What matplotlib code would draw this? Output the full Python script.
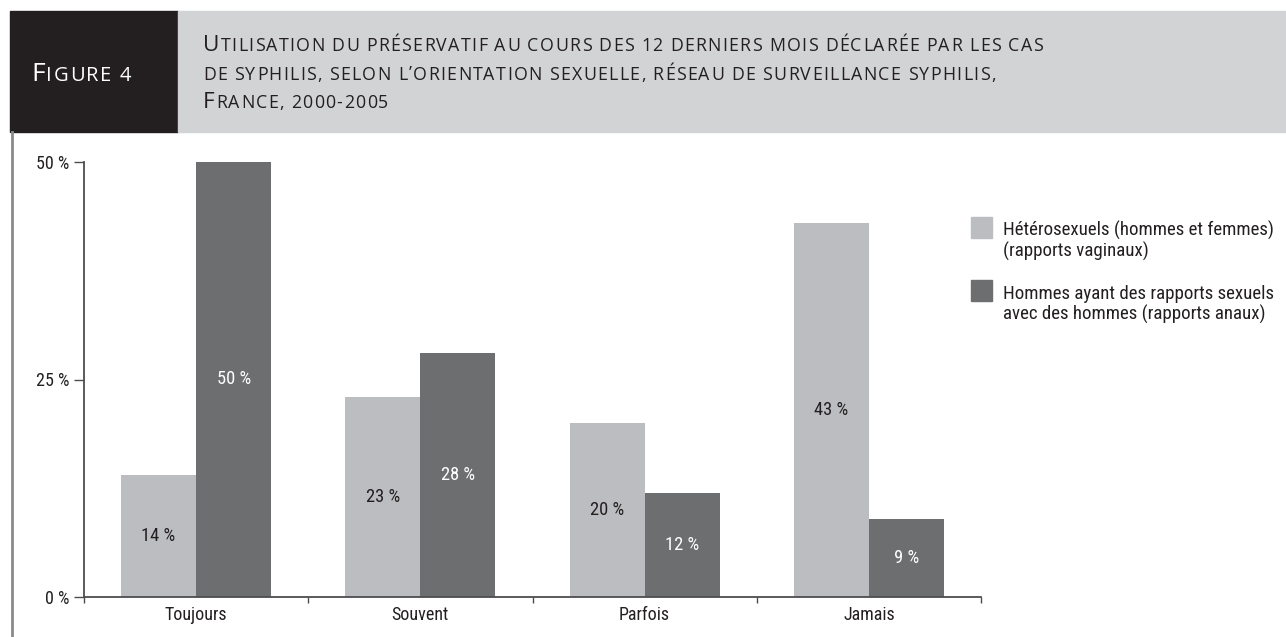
import matplotlib
matplotlib.use('Agg')
import matplotlib.pyplot as plt
from matplotlib.patches import Rectangle
from matplotlib.font_manager import FontProperties, fontManager
import numpy as np

categories = ['Toujours', 'Souvent', 'Parfois', 'Jamais']
hetero = [14, 23, 20, 43]
hsh = [50, 28, 12, 9]
series_names = ['Hétérosexuels (hommes et femmes)\n(rapports vaginaux)',
                'Hommes ayant des rapports sexuels\navec des hommes (rapports anaux)']
yticks = [0, 25, 50]
ytick_labels = ['0 %', '25 %', '50 %']
title_lines = ['Utilisation du préservatif au cours des 12 derniers mois déclarée par les cas',
               'de syphilis, selon l’orientation sexuelle, réseau de surveillance syphilis,',
               'France, 2000-2005']
fig_label = 'Figure 4'

LIGHT = '#bcbdc0'
DARK = '#6d6e70'
INK = '#231f20'
HEAD_GRAY = '#d1d3d4'
AXIS = '#4d4d4f'

names = {f.name for f in fontManager.ttflist}
BODY = [n for n in ['Roboto Condensed', 'Liberation Sans Narrow', 'Open Sans Condensed'] if n in names]
if not BODY:
    BODY = ['Roboto']
BODY = BODY + ['DejaVu Sans']
TITLE = ['Open Sans', 'DejaVu Sans']
plt.rcParams['font.family'] = BODY

W, H = 1286, 637
fig = plt.figure(figsize=(W / 100, H / 100), dpi=100)


def fx(px):
    return px / W


def fy(py):
    return 1 - py / H


# header
fig.patches.append(Rectangle((fx(10), fy(132)), fx(178) - fx(10), (132 - 11) / H,
                             transform=fig.transFigure, color=INK, zorder=0))
fig.patches.append(Rectangle((fx(178), fy(132)), 1 - fx(178), (132 - 11) / H,
                             transform=fig.transFigure, color=HEAD_GRAY, zorder=0))
# left border
fig.add_artist(plt.Line2D([fx(12), fx(12)], [fy(132), 0], transform=fig.transFigure,
                          color='#8a8b8d', lw=2))

renderer = fig.canvas.get_renderer()


def advance(ch, size):
    prop = FontProperties(family=TITLE, size=size)
    w1 = renderer.get_text_width_height_descent('I' + ch + 'I', prop, False)[0]
    w0 = renderer.get_text_width_height_descent('II', prop, False)[0]
    return w1 - w0


def smallcaps(x, y, text, big, small, color, track):
    cur = x
    for ch in text:
        size = big if ch.isupper() else small
        c = ch.upper()
        if c != ' ':
            fig.text(fx(cur), fy(y), c, fontsize=size, color=color, va='baseline',
                     ha='left', family=TITLE)
        cur += advance(c, size) + track


smallcaps(31, 81, fig_label, 19.0, 14.5, 'white', 1.6)
for i, line in enumerate(title_lines):
    smallcaps(203, 51 + i * 28.5, line, 16.2, 12.8, INK, 1.3)

# axes
ax = fig.add_axes([fx(84), fy(597), (981 - 84) / W, (597 - 162) / H])
x = np.arange(len(categories))
w = 0.335
ax.bar(x - w / 2, hetero, w, color=LIGHT, label=series_names[0], zorder=2)
ax.bar(x + w / 2, hsh, w, color=DARK, label=series_names[1], zorder=2)
ax.set_xlim(-0.5, len(categories) - 0.5)
ax.set_ylim(0, 50)
for s in ['top', 'right']:
    ax.spines[s].set_visible(False)
for s in ['left', 'bottom']:
    ax.spines[s].set_color(AXIS)
    ax.spines[s].set_linewidth(1.3)
    ax.spines[s].set_zorder(3)
FS = 13
ax.set_yticks(yticks)
ax.set_yticklabels(ytick_labels)
ax.tick_params(axis='y', length=7.2, width=1, color=AXIS, pad=3.5, labelsize=FS, labelcolor=INK)
ax.set_xticks(x)
ax.set_xticklabels(categories)
ax.tick_params(axis='x', which='major', length=0, pad=6.5, labelsize=FS, labelcolor=INK)
ax.set_xticks(np.arange(len(categories) + 1) - 0.5, minor=True)
ax.tick_params(axis='x', which='minor', length=4.5, width=1, color=AXIS)

for xi, v in zip(x, hetero):
    ax.text(xi - w / 2, v / 2, f'{v} %', ha='center', va='center', fontsize=FS + 0.3, color=INK, zorder=4)
for xi, v in zip(x, hsh):
    ax.text(xi + w / 2, v / 2, f'{v} %', ha='center', va='center', fontsize=FS + 0.3, color='white', zorder=4)

# legend
for i, (name, col) in enumerate(zip(series_names, [LIGHT, DARK])):
    top = 217 + i * 63
    fig.patches.append(Rectangle((fx(971), fy(top + 21)), 21 / W, 21 / H,
                                 transform=fig.transFigure, color=col))
    for j, line in enumerate(name.split('\n')):
        fig.text(fx(1003), fy(top + 19 + j * 21), line, fontsize=13.6, color=INK,
                 va='baseline', ha='left')

fig.savefig('out.png', dpi=100)
